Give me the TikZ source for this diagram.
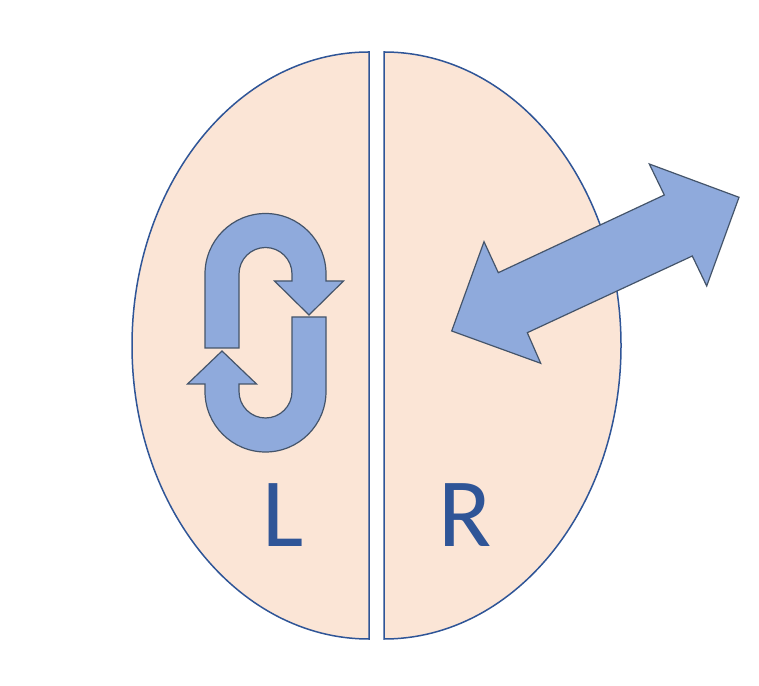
\documentclass[tikz,border=0pt]{standalone}
\usepackage{fontspec}
\setmainfont{Carlito}
\definecolor{peach}{HTML}{FBE5D6}
\definecolor{rim}{HTML}{2F5597}
\definecolor{arrowfill}{HTML}{8FAADC}
\definecolor{arrowline}{HTML}{44546A}
\begin{document}
\begin{tikzpicture}[x=1pt,y=1pt,
  half/.style={fill=peach,draw=rim,line width=1.5pt},
  arrowshape/.style={fill=arrowfill,draw=arrowline,line width=1.2pt,line join=miter},
  letter/.style={text=rim,font=\fontsize{98}{98}\selectfont,anchor=base,inner sep=0pt}]
\useasboundingbox (0,0) rectangle (759,685);
% hemispheres
\draw[half] (369,633) arc[start angle=90,end angle=270,x radius=237pt,y radius=293.5pt] -- cycle;
\draw[half] (384,633) arc[start angle=90,end angle=-90,x radius=237pt,y radius=293.5pt] -- cycle;
% upper U-turn arrow
\draw[arrowshape] (205,337) -- (205,411) arc[start angle=180,end angle=0,radius=60.5pt]
  -- (326,404) -- (343.5,404) -- (309,370) -- (274.5,404) -- (292,404) -- (292,411)
  arc[start angle=0,end angle=180,radius=26.5pt] -- (239,337) -- cycle;
% lower U-turn arrow
\draw[arrowshape] (292,368) -- (326,368) -- (326,293.5) arc[start angle=0,end angle=-180,radius=60.5pt]
  -- (205,301) -- (187.5,301) -- (222,334) -- (256.5,301) -- (239,301) -- (239,293.5)
  arc[start angle=180,end angle=360,radius=26.5pt] -- cycle;
% double arrow
\draw[arrowshape] (451.7,354) -- (484,443.3) -- (498.3,412.3) -- (664.3,490) -- (649.3,521)
  -- (739,487.7) -- (706.7,399) -- (692.3,429) -- (527.3,352.3) -- (540.7,321.7) -- cycle;
% labels
\node[letter] (L) at (283,139) {L};
\node[letter] (R) at (465,139) {R};
\end{tikzpicture}
\end{document}
